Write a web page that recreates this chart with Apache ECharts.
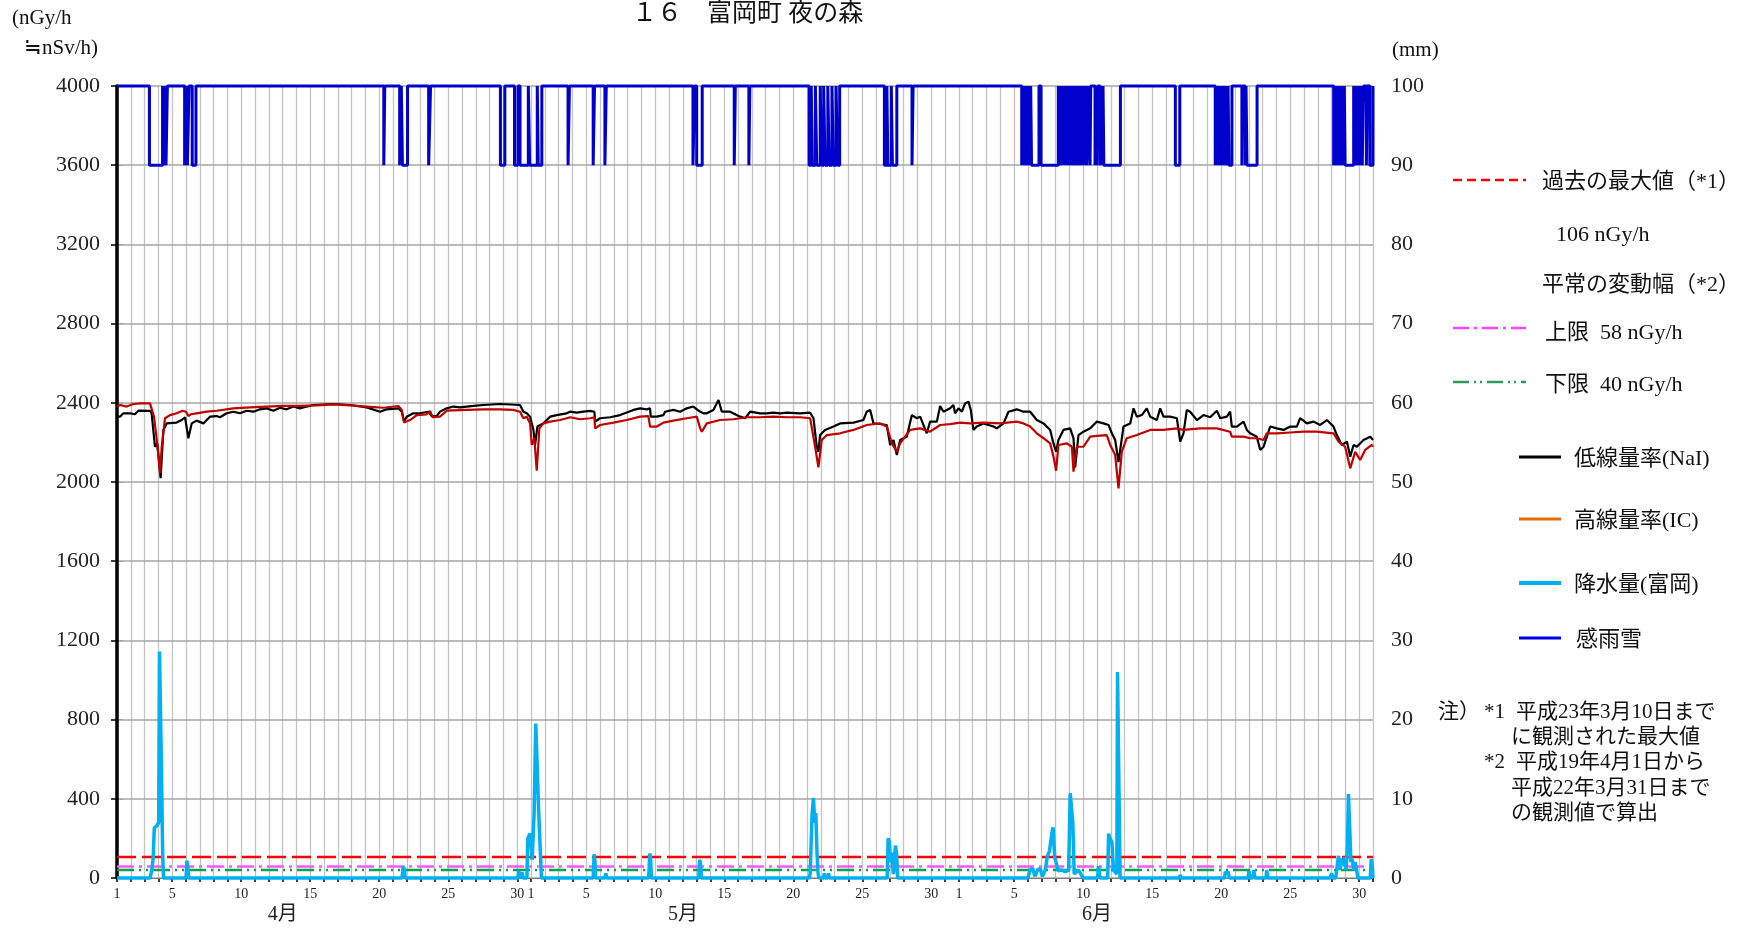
<!DOCTYPE html>
<html>
<head>
<meta charset="utf-8">
<title>１６　富岡町 夜の森</title>
<script src="https://cdn.jsdelivr.net/npm/echarts@6/dist/echarts.min.js"></script>
<style>
  html, body { margin: 0; padding: 0; background: #fff; }
  #chart { width: 1755px; height: 930px; }
</style>
</head>
<body>
<div id="chart"></div>
<script>
// x values are days counted from 4/1 00:00 (0..91)
const MONTH_NAMES = ['4月', '5月', '6月'];
const MONTH_DAYS = [30, 31, 30];
const MONTH_LABEL_AT = [12, 41, 71];
const DAY_LABELS = [1, 5, 10, 15, 20, 25, 30];

const REF_MAX = 106;
const REF_UPPER = 58;
const REF_LOWER = 40;

const SENSOR_DRY = 100;
const SENSOR_WET = 90;

// 低線量率(NaI)  [day, nGy/h]
const naiData = [
  [0,2330],[0.22,2330],[0.46,2347],[0.94,2347],[1.06,2352],[1.30,2342],[1.55,2360],[2.39,2359],[2.51,2347],[2.75,2178],
  [2.92,2195],[3.16,2019],[3.36,2263],[3.60,2296],[4.32,2300],[4.69,2313],[4.93,2327],[5.17,2221],[5.41,2296],[5.77,2310],
  [6.26,2296],[6.50,2313],[6.74,2330],[7.22,2333],[7.46,2327],[7.95,2347],[8.43,2355],[8.91,2347],[9.40,2360],[9.88,2355],
  [10.36,2367],[10.85,2372],[11.33,2360],[11.81,2375],[12.29,2367],[12.78,2381],[13.26,2372],[13.74,2381],[14.23,2389],[15.68,2394],
  [16.88,2389],[18.09,2377],[19.06,2355],[19.54,2367],[20.39,2372],[20.63,2355],[20.80,2305],[20.99,2330],[21.47,2347],[21.96,2347],
  [22.56,2355],[22.80,2333],[23.17,2333],[23.40,2355],[23.89,2372],[24.37,2381],[24.85,2377],[25.34,2381],[25.82,2384],[26.55,2389],
  [27.75,2394],[29.20,2389],[29.44,2355],[29.69,2347],[29.93,2330],[30.17,2263],[30.29,2187],[30.46,2280],[30.60,2280],[30.89,2296],
  [31.38,2330],[31.86,2338],[32.58,2347],[32.83,2355],[33.31,2350],[33.79,2355],[34.28,2359],[34.59,2355],[34.64,2305],[35.00,2322],
  [35.73,2327],[36.45,2338],[37.42,2364],[37.90,2372],[38.38,2367],[38.62,2372],[38.67,2330],[39.11,2330],[39.59,2338],[39.71,2355],
  [40.31,2364],[40.80,2355],[41.28,2372],[41.76,2381],[42.01,2367],[42.25,2355],[42.49,2347],[42.73,2347],[43.21,2364],[43.58,2414],
  [43.82,2355],[43.94,2347],[44.42,2355],[45.15,2330],[45.51,2322],[45.87,2355],[46.59,2347],[47.08,2347],[47.56,2350],[48.04,2347],
  [48.53,2350],[49.49,2347],[50.22,2350],[50.46,2322],[50.70,2178],[50.82,2153],[50.94,2237],[51.30,2263],[51.91,2280],[52.39,2296],
  [53.36,2300],[54.08,2313],[54.32,2355],[54.57,2364],[54.81,2296],[55.29,2293],[55.77,2288],[56.02,2187],[56.26,2212],[56.50,2136],
  [56.74,2212],[57.22,2229],[57.59,2338],[57.95,2322],[58.19,2330],[58.67,2246],[58.91,2305],[59.40,2305],[59.64,2384],[59.88,2355],
  [60.36,2372],[60.60,2389],[60.72,2347],[60.97,2372],[61.21,2355],[61.45,2397],[61.69,2406],[61.86,2364],[62.05,2263],[62.29,2280],
  [62.78,2296],[63.50,2280],[63.74,2271],[64.23,2296],[64.59,2355],[64.71,2364],[65.19,2367],[65.68,2355],[66.16,2355],[66.64,2313],
  [67.13,2296],[67.61,2263],[67.85,2195],[68.04,2153],[68.21,2212],[68.57,2263],[69.06,2271],[69.30,2221],[69.42,2074],[69.66,2237],
  [70.02,2254],[70.51,2271],[70.99,2305],[71.47,2296],[71.84,2288],[72.08,2246],[72.32,2212],[72.56,2100],[72.92,2280],[73.41,2296],
  [73.65,2372],[73.89,2330],[74.25,2338],[74.61,2372],[74.86,2330],[75.34,2313],[75.58,2372],[75.82,2330],[76.30,2330],[76.79,2322],
  [77.03,2204],[77.27,2246],[77.51,2364],[77.75,2355],[78.24,2313],[78.72,2338],[79.20,2327],[79.69,2360],[79.93,2322],[80.41,2330],
  [80.65,2355],[80.77,2280],[81.14,2280],[81.62,2305],[81.86,2263],[82.10,2246],[82.58,2229],[82.83,2162],[83.07,2178],[83.31,2229],
  [83.55,2280],[84.03,2271],[84.52,2263],[85.00,2280],[85.48,2280],[85.72,2322],[86.21,2296],[86.69,2305],[87.17,2288],[87.66,2313],
  [88.14,2280],[88.38,2237],[88.74,2187],[89.11,2204],[89.35,2128],[89.59,2187],[89.83,2178],[90.31,2212],[90.80,2229],[91.00,2212]
];

// 高線量率(IC)  [day, nGy/h]
const icData = [
  [0,2381],[0.22,2389],[0.70,2381],[1.18,2394],[1.67,2397],[2.39,2397],[2.51,2394],[2.68,2330],[2.87,2221],[2.99,2212],
  [3.12,2044],[3.24,2178],[3.48,2322],[3.84,2338],[4.32,2347],[4.76,2360],[5.00,2355],[5.17,2333],[5.34,2342],[5.77,2347],
  [6.50,2355],[7.22,2360],[8.43,2372],[9.64,2377],[10.85,2381],[12.05,2384],[13.26,2384],[14.47,2387],[15.68,2392],[16.88,2387],
  [18.09,2381],[19.30,2375],[20.39,2384],[20.63,2364],[20.80,2300],[21.23,2313],[21.72,2338],[22.44,2342],[22.68,2359],[22.87,2327],
  [23.40,2330],[23.89,2360],[25.34,2364],[26.55,2367],[27.75,2367],[28.72,2364],[29.20,2355],[29.44,2322],[29.69,2330],[29.93,2296],
  [30.05,2187],[30.24,2221],[30.41,2057],[30.60,2271],[30.89,2296],[31.38,2305],[32.10,2313],[32.58,2322],[32.83,2327],[33.55,2317],
  [34.28,2322],[34.59,2327],[34.64,2271],[35.00,2288],[35.97,2300],[36.93,2313],[37.90,2330],[38.50,2333],[38.62,2280],[39.11,2280],
  [39.59,2300],[40.31,2310],[41.28,2322],[42.01,2330],[42.25,2271],[42.37,2254],[42.73,2296],[43.70,2313],[44.66,2317],[45.63,2327],
  [46.59,2327],[47.56,2330],[48.53,2327],[49.49,2327],[50.22,2322],[50.58,2178],[50.82,2074],[51.06,2212],[51.43,2237],[52.39,2246],
  [53.36,2263],[54.32,2288],[55.29,2296],[55.77,2280],[56.14,2195],[56.50,2153],[56.74,2195],[57.46,2263],[58.19,2271],[58.91,2254],
  [59.64,2288],[60.36,2292],[61.09,2300],[61.81,2296],[62.78,2300],[63.99,2296],[65.19,2305],[65.68,2296],[66.16,2280],[66.64,2246],
  [67.13,2221],[67.61,2195],[67.85,2128],[68.04,2057],[68.21,2187],[68.82,2195],[69.18,2178],[69.30,2052],[69.54,2178],[70.02,2178],
  [70.51,2229],[70.99,2233],[71.71,2237],[71.96,2187],[72.32,2136],[72.56,1968],[72.80,2153],[73.16,2221],[73.89,2237],[74.86,2263],
  [75.82,2263],[76.79,2271],[77.27,2263],[78.48,2271],[79.69,2271],[80.65,2254],[80.77,2229],[81.62,2229],[82.10,2221],[82.58,2221],
  [83.07,2212],[83.31,2246],[84.03,2246],[85.00,2250],[85.97,2254],[86.93,2254],[88.14,2246],[88.50,2204],[88.98,2178],[89.35,2069],
  [89.71,2153],[90.07,2111],[90.43,2162],[90.92,2187],[91.00,2178]
];

// 降水量(富岡)  [day, mm]
const rainData = [
  [0,0],[2.40,0],[2.52,1.0],[2.62,2.5],[2.70,6.3],[2.88,6.6],[3.02,7.0],[3.08,28.6],[3.16,28.5],[3.20,16.0],[3.27,15.8],[3.31,3.0],[3.37,0],
  [5.00,0],[5.07,2.2],[5.14,2.0],[5.20,0],
  [20.65,0],[20.74,1.5],[20.82,1.0],[20.88,0],
  [29.05,0],[29.10,0.9],[29.16,0],[29.30,0],[29.36,0.7],[29.42,0],
  [29.70,0],[29.76,5.0],[29.93,5.6],[30.08,2.3],[30.22,8.1],[30.34,19.5],[30.46,19.5],[30.55,8.5],[30.65,8.3],[30.75,0],
  [34.50,0],[34.57,3.0],[34.63,2.0],[34.68,0],
  [35.35,0],[35.42,0.6],[35.48,0],
  [38.52,0],[38.60,3.1],[38.66,2.5],[38.72,0],
  [42.15,0],[42.22,2.3],[42.28,1.8],[42.34,0],
  [50.15,0],[50.22,0.5],[50.36,8.0],[50.46,10.1],[50.55,7.0],[50.63,8.2],[50.72,3.0],[50.80,0.5],[50.86,0],
  [51.20,0],[51.25,0.6],[51.30,0],[51.50,0],[51.56,0.6],[51.62,0],
  [55.80,0],[55.87,5.0],[55.95,4.6],[56.05,2.0],[56.12,3.2],[56.25,0.5],[56.40,4.1],[56.48,3.0],[56.56,0],
  [66.00,0],[66.04,0.3],[66.16,1.0],[66.35,1.2],[66.50,0.2],[66.69,1.0],[66.88,1.2],[67.05,0.2],[67.25,1.0],[67.42,2.8],
  [67.56,3.4],[67.73,5.6],[67.82,6.4],[67.88,6.5],[67.94,2.6],[68.20,0.9],[68.45,1.0],[68.70,0.8],[68.95,1.0],
  [69.06,10.7],[69.16,10.5],[69.25,7.0],[69.35,0.5],[69.66,1.0],[69.90,0.3],[70.00,0],
  [71.05,0],[71.11,1.5],[71.23,0],[71.78,0],[71.84,5.6],[71.96,4.9],[72.08,4.6],[72.20,1.0],[72.44,0.5],[72.49,26.0],[72.58,26.0],[72.64,5.0],[72.68,0],
  [76.98,0],[77.03,0.4],[77.08,0],
  [80.25,0],[80.30,0.8],[80.40,0.5],[80.50,0.8],[80.60,0],
  [81.95,0],[82.00,0.9],[82.10,0],[82.30,0],[82.36,1.0],[82.45,0],[83.25,0],[83.30,1.0],[83.38,0],
  [87.90,0],[88.00,0.6],[88.10,0],[88.30,0],[88.40,1.5],[88.50,2.8],[88.60,1.0],[88.72,2.5],[88.85,1.5],[88.95,2.6],
  [89.05,1.0],[89.15,4.0],[89.22,10.6],[89.28,10.5],[89.34,5.0],[89.40,2.0],[89.50,2.4],[89.60,1.0],[89.70,2.0],[89.80,1.2],[89.90,0],
  [90.80,0],[90.88,2.4],[90.95,1.5],[91.00,0]
];

// 感雨雪: periods (start day, end day) when the sensor reads wet
const sensorWet = [
  [2.35,3.30],[3.38,3.45],[3.55,3.65],
  [4.90,5.00],[5.10,5.22],[5.45,5.72],
  [19.33,19.40],[20.48,20.60],[20.68,21.05],[22.58,22.72],
  [27.78,28.10],[28.80,29.05],[29.20,29.80],[29.90,30.45],[30.52,30.78],
  [32.68,32.78],[34.50,34.60],[35.35,35.45],[41.73,41.85],[42.00,42.40],[44.72,44.80],[45.78,45.85],
  [50.15,50.30],[50.38,50.60],[50.70,50.95],[51.05,51.20],[51.30,51.50],[51.60,51.80],[51.90,52.10],[52.20,52.36],
  [55.60,55.78],[55.85,56.10],[56.18,56.50],[57.60,57.68],
  [65.55,65.62],[65.68,65.76],[65.82,65.90],[65.96,66.05],[66.10,66.20],[66.26,66.80],[66.95,68.20],
  [68.26,68.34],[68.40,68.50],[68.56,68.64],[68.70,68.80],[68.86,69.00],[69.06,69.15],[69.22,69.30],[69.36,69.46],
  [69.52,69.60],[69.66,69.76],[69.82,69.90],[69.96,70.05],[70.12,70.20],[70.26,70.40],
  [70.50,70.55],[70.86,70.91],[71.00,71.05],[71.23,71.30],[71.36,71.44],[71.50,72.70],
  [76.68,77.00],
  [79.57,79.64],[79.70,79.78],[79.84,79.92],[79.98,80.06],[80.12,80.20],[80.26,80.34],[80.40,80.50],[80.56,80.78],
  [81.50,81.55],[81.74,81.80],[81.87,82.60],
  [88.15,88.22],[88.28,88.36],[88.42,88.50],[88.56,88.64],[88.70,88.78],[88.84,88.92],[88.98,89.60],
  [89.66,89.74],[89.80,89.88],[89.94,90.02],[90.08,90.16],[90.22,90.32],[90.52,90.58],[90.77,91.00]
];

const TOTAL_DAYS = MONTH_DAYS.reduce((a, b) => a + b, 0);
const SERIF = "'Liberation Serif', 'Noto Sans CJK JP', serif";

function dayOfMonth(v) {
    let d = v;
    for (let m = 0; m < MONTH_DAYS.length; m++) {
        if (d < MONTH_DAYS[m]) return d + 1;
        d -= MONTH_DAYS[m];
    }
    return null;
}

function sensorLine() {
    const pts = [[0, SENSOR_DRY]];
    sensorWet.forEach(([a, b]) => {
        pts.push([a, SENSOR_DRY], [a, SENSOR_WET], [b, SENSOR_WET], [b, SENSOR_DRY]);
    });
    pts.push([TOTAL_DAYS, SENSOR_DRY]);
    return pts;
}

function flat(v) {
    return [[0, v], [TOTAL_DAYS, v]];
}

function txt(text, x, y, size, extra) {
    return {
        type: 'text', silent: true,
        style: Object.assign({
            text: text, x: x, y: y, fill: '#111',
            font: size + 'px ' + SERIF,
            align: 'left', verticalAlign: 'middle'
        }, extra || {})
    };
}

function legLine(x1, x2, y, color, width, dash) {
    return {
        type: 'line', silent: true,
        shape: { x1: x1, y1: y, x2: x2, y2: y },
        style: { stroke: color, lineWidth: width, lineDash: dash || null }
    };
}

const chart = echarts.init(document.getElementById('chart'));

const option = {
    animation: false,
    backgroundColor: '#fff',
    grid: { left: 117, right: 382, top: 86, bottom: 52, containLabel: false },
    xAxis: [{
        type: 'value', min: 0, max: TOTAL_DAYS, interval: 1, position: 'bottom',
        axisLine: { show: true, lineStyle: { color: '#000', width: 1 } },
        axisTick: { show: true, length: 4, lineStyle: { color: '#000', width: 1.5 } },
        splitLine: { show: true, lineStyle: { color: '#c4c4c4', width: 1.3 } },
        axisLabel: {
            margin: 9, fontSize: 14, fontFamily: SERIF, color: '#222',
            formatter: function (v) {
                const d = dayOfMonth(v);
                return (d !== null && DAY_LABELS.indexOf(d) >= 0) ? String(d) : '';
            }
        }
    }, {
        type: 'value', min: 0, max: TOTAL_DAYS, interval: 1, position: 'bottom',
        axisLine: { show: false }, axisTick: { show: false }, splitLine: { show: false },
        axisLabel: {
            margin: 27, fontSize: 20, fontFamily: SERIF, color: '#222',
            formatter: function (v) {
                const i = MONTH_LABEL_AT.indexOf(v);
                return i >= 0 ? MONTH_NAMES[i] : '';
            }
        }
    }],
    yAxis: [{
        type: 'value', min: 0, max: 4000, interval: 400, position: 'left', z: 10,
        axisLine: { show: true, lineStyle: { color: '#000', width: 3.5 } },
        axisTick: { show: true, length: 6, lineStyle: { color: '#000', width: 1.5 } },
        splitLine: { show: true, lineStyle: { color: '#a6a6a6', width: 1.5 } },
        axisLabel: { margin: 17, fontSize: 22, fontFamily: SERIF, color: '#222', formatter: v => String(v) }
    }, {
        type: 'value', min: 0, max: 100, interval: 10, position: 'right',
        axisLine: { show: true, lineStyle: { color: '#999', width: 1 } },
        axisTick: { show: true, length: 6, lineStyle: { color: '#999', width: 1 } },
        splitLine: { show: false },
        axisLabel: { margin: 18, fontSize: 22, fontFamily: SERIF, color: '#222', formatter: v => String(v) }
    }],
    // series sit above the left axis (z 10) so grid lines never cover them
    series: [
        { name: '過去の最大値', type: 'line', yAxisIndex: 0, data: flat(REF_MAX), symbol: 'none', silent: true, z: 11,
          lineStyle: { color: '#ff0000', width: 2.5, type: [19, 6] } },
        { name: '上限', type: 'line', yAxisIndex: 0, data: flat(REF_UPPER), symbol: 'none', silent: true, z: 11,
          lineStyle: { color: '#ff55ff', width: 2.5, type: [17, 5, 3, 5] } },
        { name: '下限', type: 'line', yAxisIndex: 0, data: flat(REF_LOWER), symbol: 'none', silent: true, z: 11,
          lineStyle: { color: '#00a550', width: 2.5, type: [17, 5, 2, 5, 2, 5] } },
        { name: '降水量(富岡)', type: 'line', yAxisIndex: 1, data: rainData, symbol: 'none', clip: false, z: 12,
          lineStyle: { color: '#00b0f0', width: 3.5 } },
        { name: '低線量率(NaI)', type: 'line', yAxisIndex: 0, data: naiData, symbol: 'none', z: 13,
          lineStyle: { color: '#000000', width: 2.2 } },
        { name: '高線量率(IC)', type: 'line', yAxisIndex: 0, data: icData, symbol: 'none', z: 14,
          lineStyle: { color: '#c00000', width: 2.2 } },
        { name: '感雨雪', type: 'line', yAxisIndex: 1, data: sensorLine(), symbol: 'none', clip: false, z: 15,
          lineStyle: { color: '#0000cd', width: 3 } }
    ],
    graphic: { elements: [
        txt('１６　富岡町 夜の森', 632, 14, 25),
        txt('(nGy/h', 12, 18, 21),
        txt('≒nSv/h)', 24, 48, 21),
        txt('(mm)', 1392, 50, 21),

        legLine(1453, 1526, 180, '#ff0000', 2.5, [9, 5]),
        txt('過去の最大値（*1）', 1542, 182, 22),
        txt('106 nGy/h', 1556, 235, 22),
        txt('平常の変動幅（*2）', 1542, 285, 22),
        legLine(1453, 1526, 328, '#ff44ff', 2.5, [16, 5, 3, 5]),
        txt('上限  58 nGy/h', 1545, 333, 22),
        legLine(1453, 1526, 382, '#2e9a5e', 2.5, [16, 5, 2, 4, 2, 5]),
        txt('下限  40 nGy/h', 1545, 385, 22),

        legLine(1519, 1561, 457, '#000000', 3),
        txt('低線量率(NaI)', 1574, 459, 22),
        legLine(1519, 1561, 519, '#e46c0a', 3),
        txt('高線量率(IC)', 1574, 521, 22),
        legLine(1519, 1561, 583, '#00b0f0', 4),
        txt('降水量(富岡)', 1574, 585, 22),
        legLine(1519, 1561, 638, '#0000e0', 3),
        txt('感雨雪', 1576, 640, 22),

        txt('注）', 1438, 712, 21),
        txt('*1', 1484, 712, 21),
        txt('平成23年3月10日まで', 1516, 712, 21),
        txt('に観測された最大値', 1511, 737, 21),
        txt('*2', 1484, 762, 21),
        txt('平成19年4月1日から', 1516, 762, 21),
        txt('平成22年3月31日まで', 1511, 788, 21),
        txt('の観測値で算出', 1511, 813, 21)
    ] }
};

chart.setOption(option);
</script>
</body>
</html>
